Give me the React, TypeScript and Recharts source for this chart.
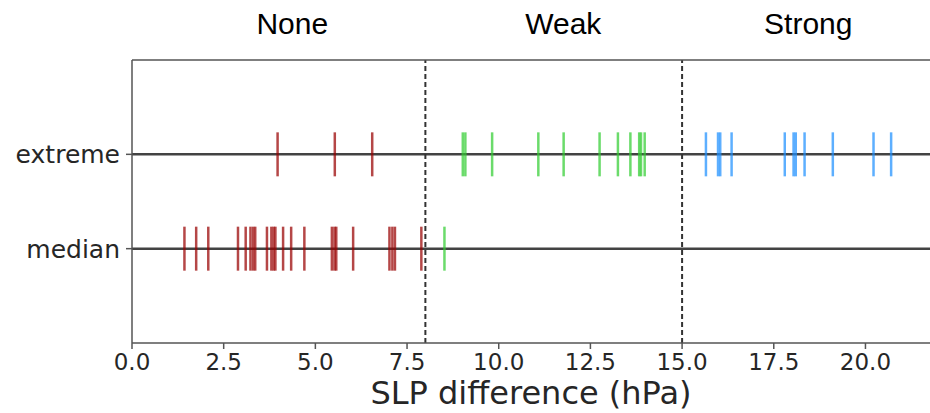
import React from 'react';
import { ScatterChart, Scatter, XAxis, YAxis, ReferenceLine } from 'recharts';

// Event values (SLP difference, hPa) per row
const extremeValues = [
  3.97, 5.53, 6.55,
  9.02, 9.09, 9.82, 11.08, 11.77, 12.75, 13.25, 13.59, 13.83, 13.88, 13.98,
  15.65, 15.98, 16.04, 16.35, 17.8, 18.04, 18.1, 18.34, 19.11, 20.22, 20.7,
];
const medianValues = [
  1.43, 1.75, 2.08, 2.89, 3.1, 3.23, 3.3, 3.36, 3.68, 3.8, 3.86, 3.91, 4.12, 4.34, 4.7,
  5.45, 5.52, 5.57, 6.03, 7.02, 7.1, 7.17, 7.89,
  8.52,
];
const rowNames = ['median', 'extreme'];
const rowPositions = [1, 2];
const thresholds = [8, 15];
const classNames = ['None', 'Weak', 'Strong'];
const classLabelPositions = [4.37, 11.76, 18.44];
const classColors = ['#990000', '#32cd32', '#1e90ff'];
const xTicks = [0, 2.5, 5, 7.5, 10, 12.5, 15, 17.5, 20];
const xDomain = [0, 21.76];

const classOf = (v: number) => (v < thresholds[0] ? 0 : v < thresholds[1] ? 1 : 2);

const buildSeries = (values: number[], y: number, cls: number) =>
  values.filter((v) => classOf(v) === cls).map((v) => ({ x: v, y }));

const series: { key: string; data: { x: number; y: number }[]; color: string }[] = [];
[medianValues, extremeValues].forEach((vals, row) => {
  [0, 1, 2].forEach((cls) => {
    const data = buildSeries(vals, rowPositions[row], cls);
    if (data.length) series.push({ key: `${rowNames[row]}-${cls}`, data, color: classColors[cls] });
  });
});

const makeShape = (color: string) => (props: any) => {
  const { cx, cy } = props;
  return (
    <line x1={cx} x2={cx} y1={cy - 22} y2={cy + 22} stroke={color} strokeWidth={2.5} strokeOpacity={0.72} />
  );
};

const tickFont = { fontFamily: 'DejaVu Sans', fontSize: 23, fill: '#262626' };

export default function App() {
  return (
    <div style={{ position: 'absolute', left: 0, top: 0, background: '#fff' }}>
      <ScatterChart width={930} height={413} margin={{ top: 0, right: 0, bottom: 0, left: 0 }}>
        <XAxis
          xAxisId="top"
          orientation="top"
          type="number"
          dataKey="x"
          domain={xDomain}
          ticks={classLabelPositions}
          tickFormatter={(v: number) => classNames[classLabelPositions.indexOf(v)] ?? ''}
          height={60}
          tickLine={false}
          tickMargin={20}
          axisLine={{ stroke: '#555', strokeWidth: 1.5 }}
          tick={{ fontFamily: 'Liberation Sans', fontSize: 30, fill: '#000' }}
          allowDataOverflow
          interval={0}
        />
        <XAxis
          xAxisId="bottom"
          type="number"
          dataKey="x"
          domain={xDomain}
          ticks={xTicks}
          tickFormatter={(v: number) => v.toFixed(1)}
          height={70}
          tickSize={6}
          tickMargin={5}
          axisLine={{ stroke: '#555', strokeWidth: 1.5 }}
          tickLine={{ stroke: '#555', strokeWidth: 1.5 }}
          tick={tickFont}
          allowDataOverflow
          interval={0}
          label={{
            value: 'SLP difference (hPa)',
            position: 'insideBottom',
            offset: 9,
            style: { fontFamily: 'DejaVu Sans', fontSize: 32, fill: '#262626' },
          }}
        />
        <YAxis
          type="number"
          dataKey="y"
          domain={[0, 3]}
          ticks={rowPositions}
          tickFormatter={(v: number) => rowNames[rowPositions.indexOf(v)] ?? ''}
          width={132}
          tickSize={6}
          tickMargin={6}
          axisLine={{ stroke: '#555', strokeWidth: 1.5 }}
          tickLine={{ stroke: '#555', strokeWidth: 1.5 }}
          tick={{ ...tickFont, fontSize: 25 }}
          interval={0}
        />
        {rowPositions.map((y) => (
          <ReferenceLine key={`h-${y}`} xAxisId="bottom" y={y} stroke="#222" strokeWidth={2.5} strokeOpacity={0.85} />
        ))}
        {thresholds.map((t) => (
          <ReferenceLine key={`v-${t}`} xAxisId="bottom" x={t} stroke="#333" strokeWidth={2} strokeDasharray="5 3" />
        ))}
        {series.map((s) => (
          <Scatter
            key={s.key}
            xAxisId="bottom"
            data={s.data}
            shape={makeShape(s.color)}
            isAnimationActive={false}
          />
        ))}
      </ScatterChart>
    </div>
  );
}
